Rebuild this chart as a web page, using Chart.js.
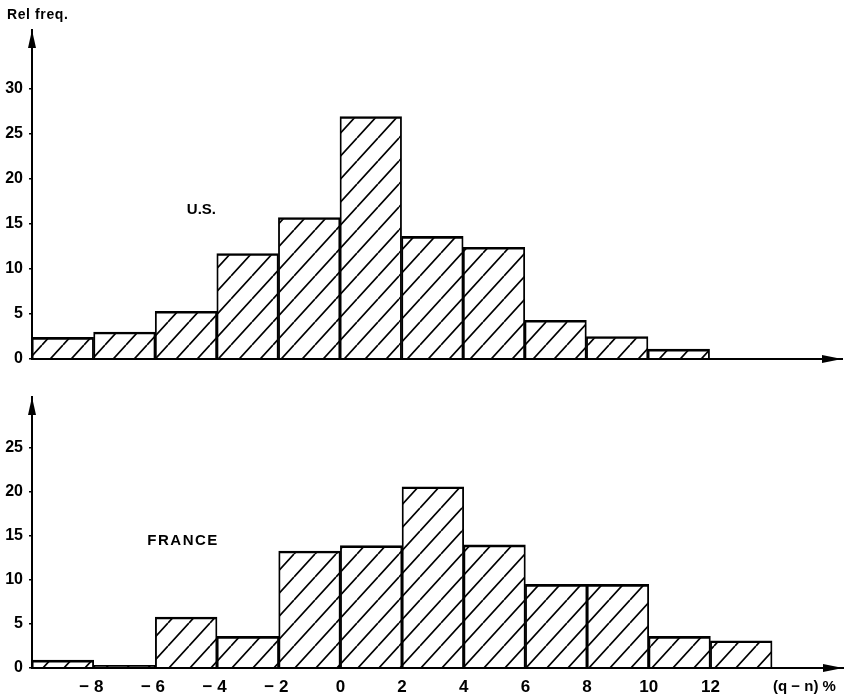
<!DOCTYPE html>
<html>
<head>
<meta charset="utf-8">
<script src="https://cdn.jsdelivr.net/npm/chart.js@4/dist/chart.umd.min.js"></script>
<style>
  html, body { margin: 0; padding: 0; background: #fff; }
  #wrap { position: relative; width: 844px; height: 696px; overflow: hidden; }
  .panel { position: absolute; left: 0; }
  #top { top: 0; width: 844px; height: 370px; }
  #bottom { top: 370px; width: 844px; height: 326px; }
</style>
</head>
<body>
<div id="wrap">
  <div class="panel" id="top"><canvas id="usChart" width="844" height="370"></canvas></div>
  <div class="panel" id="bottom"><canvas id="frChart" width="844" height="326"></canvas></div>
</div>
<script>
// Histogram bins: width 2 percentage points, (q - n) %
const binWidth = 2;
const usBinStarts = [-10, -8, -6, -4, -2, 0, 2, 4, 6, 8, 10];
const usFreq = [2.4, 3.0, 5.3, 11.7, 15.7, 26.9, 13.6, 12.4, 4.3, 2.5, 1.1];

const frBinStarts = [-10, -8, -6, -4, -2, 0, 2, 4, 6, 8, 10, 12];
const frFreq = [0.9, 0.3, 5.8, 3.6, 13.3, 13.9, 20.6, 14.0, 9.5, 9.5, 3.6, 3.1];

const xTickValues = [-8, -6, -4, -2, 0, 2, 4, 6, 8, 10, 12];
const usYTicks = [0, 5, 10, 15, 20, 25, 30];
const frYTicks = [0, 5, 10, 15, 20, 25];

const FONT = "'Liberation Sans', Arial, Helvetica, sans-serif";

// Diagonal "/" hatching used as the bar fill
function makeHatch() {
  const w = 21, h = 23;
  const c = document.createElement('canvas');
  c.width = w; c.height = h;
  const g = c.getContext('2d');
  g.strokeStyle = '#000';
  g.lineWidth = 1.7;
  g.beginPath();
  for (let k = -1; k <= 1; k++) {
    g.moveTo(k * w, h);
    g.lineTo(k * w + w, 0);
  }
  g.stroke();
  return document.createElement('canvas').getContext('2d').createPattern(c, 'repeat');
}
const hatch = makeHatch();

function binPoints(starts, values) {
  return starts.map((s, i) => ({ x: s + binWidth / 2, y: values[i] }));
}

// Axis arrowheads and free text labels
const decorations = {
  id: 'decorations',
  afterDraw(chart, args, opts) {
    const { ctx, chartArea: a } = chart;
    ctx.save();
    ctx.fillStyle = '#000';
    // arrow on the vertical axis
    ctx.beginPath();
    ctx.moveTo(a.left, a.top);
    ctx.lineTo(a.left - 4, a.top + 18);
    ctx.lineTo(a.left + 4, a.top + 18);
    ctx.closePath();
    ctx.fill();
    // arrow on the horizontal axis
    ctx.beginPath();
    ctx.moveTo(a.right, a.bottom);
    ctx.lineTo(a.right - 20, a.bottom - 4);
    ctx.lineTo(a.right - 20, a.bottom + 4);
    ctx.closePath();
    ctx.fill();
    // text labels
    (opts.labels || []).forEach(l => {
      ctx.font = l.font;
      ctx.letterSpacing = l.spacing || '0px';
      ctx.textAlign = l.align || 'center';
      ctx.textBaseline = 'middle';
      const x = l.px !== undefined ? l.px : chart.scales.x.getPixelForValue(l.x);
      const y = l.py !== undefined ? l.py : chart.scales.y.getPixelForValue(l.y);
      ctx.fillText(l.text, x, y);
    });
    ctx.restore();
  }
};

function makeChart(canvasId, starts, values, yMax, yTicks, opts) {
  return new Chart(document.getElementById(canvasId), {
    type: 'bar',
    data: {
      datasets: [{
        data: binPoints(starts, values),
        backgroundColor: hatch,
        borderColor: '#000',
        borderWidth: { top: 2, left: 1.2, right: 1.2, bottom: 0 },
        borderSkipped: false,
        barPercentage: 1,
        categoryPercentage: 1,
        grouped: false
      }]
    },
    options: {
      responsive: false,
      animation: false,
      events: [],
      layout: { padding: { left: 0, right: opts.padRight, top: opts.padTop, bottom: 0 } },
      plugins: {
        legend: { display: false },
        tooltip: { enabled: false },
        decorations: { labels: opts.labels }
      },
      scales: {
        x: {
          type: 'linear',
          offset: false,
          min: -10,
          max: 16.3,
          z: 1,
          grid: { display: false, offset: false },
          border: { display: true, color: '#000', width: 2 },
          afterBuildTicks: s => { s.ticks = xTickValues.map(v => ({ value: v })); },
          afterFit: s => { s.height = opts.xHeight; },
          ticks: {
            display: opts.showXLabels,
            autoSkip: false,
            maxRotation: 0,
            padding: 1,
            color: '#000',
            font: { family: FONT, size: 17, weight: 'bold' },
            callback: v => (v < 0 ? '\u2212 ' + (-v) + ' ' : String(v))
          }
        },
        y: {
          type: 'linear',
          min: 0,
          max: yMax,
          z: 1,
          grid: { display: true, drawOnChartArea: false, drawTicks: true, tickLength: 3, color: '#000', lineWidth: 1.5 },
          border: { display: true, color: '#000', width: 2 },
          afterBuildTicks: s => { s.ticks = yTicks.map(v => ({ value: v })); },
          afterFit: s => { s.width = 32; s.paddingTop = 0; s.paddingBottom = 0; },
          ticks: {
            padding: 6,
            color: '#000',
            font: { family: FONT, size: 16, weight: 'bold', lineHeight: 1 }
          }
        }
      }
    },
    plugins: [decorations]
  });
}

makeChart('usChart', usBinStarts, usFreq, 36.5, usYTicks, {
  padTop: 30, padRight: 2, xHeight: 11, showXLabels: false,
  labels: [
    { text: 'Rel freq.', px: 7, py: 15, align: 'left', font: `bold 14px ${FONT}`, spacing: '0.6px' },
    { text: 'U.S.', x: -4.5, y: 16.6, font: `bold 15px ${FONT}` }
  ]
});

makeChart('frChart', frBinStarts, frFreq, 30.8, frYTicks, {
  padTop: 27, padRight: 1, xHeight: 28, showXLabels: true,
  labels: [
    { text: 'FRANCE', x: -5.1, y: 14.4, font: `bold 15px ${FONT}`, spacing: '1.5px' },
    { text: '(q \u2212 n) %', px: 773, py: 317, align: 'left', font: `bold 15px ${FONT}` }
  ]
});
</script>
</body>
</html>
